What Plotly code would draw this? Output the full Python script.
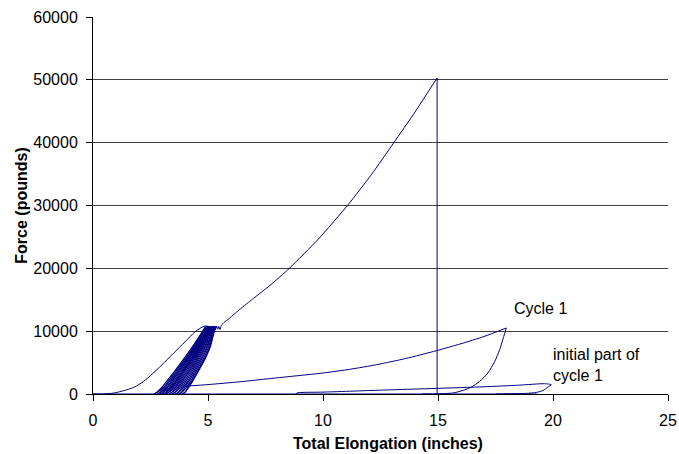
import plotly.graph_objects as go

# ---------------- data ----------------
# first loading curve (leftmost) up to the first peak
first_x = [0.0, 0.43, 0.9, 1.38, 1.81, 2.2, 2.5, 3.0, 3.5, 4.0, 4.42, 4.7, 4.86, 4.98]
first_y = [0, 0, 150, 570, 1110, 2010, 2930, 4650, 6480, 8300, 9860, 10550, 10800, 10800]

# force levels used for the dense bundle of repeated cycles
load_levels = [0, 300, 1000, 2000, 3500, 5500, 7500, 9500, 10800]
unload_levels = [10800, 9500, 7500, 5500, 3500, 2000, 1000, 300, 0]

# elongation of each loading branch at load_levels
bundle_load_x = [
    [2.65, 2.78, 2.98, 3.20, 3.52, 3.93, 4.32, 4.68, 4.90],
    [2.80, 2.93, 3.12, 3.33, 3.64, 4.04, 4.41, 4.74, 4.96],
    [2.92, 3.05, 3.23, 3.44, 3.74, 4.13, 4.49, 4.80, 5.01],
    [3.06, 3.18, 3.36, 3.56, 3.85, 4.23, 4.57, 4.86, 5.06],
    [3.17, 3.29, 3.46, 3.66, 3.94, 4.31, 4.64, 4.90, 5.10],
    [3.30, 3.43, 3.58, 3.78, 4.06, 4.41, 4.72, 4.96, 5.15],
    [3.44, 3.56, 3.71, 3.90, 4.17, 4.51, 4.80, 5.02, 5.21],
    [3.59, 3.71, 3.85, 4.04, 4.29, 4.61, 4.89, 5.08, 5.27],
    [3.73, 3.85, 3.98, 4.17, 4.41, 4.72, 4.98, 5.15, 5.32],
    [3.88, 4.00, 4.12, 4.30, 4.53, 4.83, 5.07, 5.21, 5.38],
]
# elongation of each unloading branch at unload_levels
bundle_unload_x = [
    [4.98, 4.71, 4.37, 3.99, 3.58, 3.27, 3.05, 2.81, 2.65],
    [4.90, 4.77, 4.45, 4.09, 3.69, 3.39, 3.18, 2.96, 2.80],
    [4.96, 4.83, 4.53, 4.18, 3.80, 3.50, 3.30, 3.08, 2.92],
    [5.01, 4.88, 4.61, 4.27, 3.90, 3.61, 3.41, 3.21, 3.06],
    [5.06, 4.93, 4.68, 4.36, 4.00, 3.72, 3.52, 3.32, 3.17],
    [5.10, 4.99, 4.76, 4.46, 4.12, 3.84, 3.65, 3.46, 3.30],
    [5.15, 5.05, 4.85, 4.56, 4.23, 3.97, 3.78, 3.59, 3.44],
    [5.21, 5.12, 4.94, 4.67, 4.35, 4.11, 3.92, 3.74, 3.59],
    [5.27, 5.18, 5.03, 4.78, 4.47, 4.24, 4.05, 3.88, 3.73],
    [5.32, 5.24, 5.10, 4.86, 4.56, 4.33, 4.15, 4.02, 3.88],
]

# final pull to failure
fail_x = [5.38, 5.42, 5.47, 5.52, 5.58, 5.73, 5.87, 6.2, 6.81, 7.7, 8.55, 9.8, 11.09, 12.1, 13.07, 14.0, 14.96]
fail_y = [10800, 10300, 10750, 10250, 10900, 11500, 11850, 12900, 14740, 17300, 20050, 24670, 30120, 34900, 39950, 44880, 50290]
drop_x = [14.96, 14.96]
drop_y = [50290, 0]

# cycle 1 (loading and unloading)
cycle1_load_x = [4.05, 5.0, 6.4, 7.25, 8.6, 10.0, 11.2, 12.32, 13.6, 14.93, 16.0, 17.0, 17.97]
cycle1_load_y = [1250, 1500, 1950, 2280, 2800, 3340, 3950, 4660, 5650, 6890, 8000, 9150, 10500]
cycle1_unload_x = [17.97, 17.86, 17.68, 17.47, 17.17, 16.81, 16.45, 16.09, 15.65, 15.0, 14.3]
cycle1_unload_y = [10500, 9170, 7050, 5190, 3340, 2000, 1110, 570, 160, 30, 0]

# initial part of cycle 1
init_x = [8.8, 8.91, 10.0, 12.4, 14.93, 17.0, 18.5, 19.64, 19.93, 19.78, 19.57, 19.28, 18.84, 17.5]
init_y = [0, 200, 300, 600, 890, 1150, 1400, 1640, 1480, 1110, 570, 250, 100, 0]

# baseline along zero force
base_x = [0.0, 19.3]
base_y = [0, 0]

x_ticks = [0, 5, 10, 15, 20, 25]
y_ticks = [0, 10000, 20000, 30000, 40000, 50000, 60000]
y_ticktext = ["0", "10000", "20000", "30000", "40000", "50000", "60000"]

# ---------------- figure ----------------
NAVY = "#000080"
fig = go.Figure()

def add(x, y, shape="spline", width=1):
    fig.add_trace(go.Scatter(x=x, y=y, mode="lines",
                             line=dict(color=NAVY, width=width, shape=shape, smoothing=0.6),
                             showlegend=False, hoverinfo="skip"))

add(base_x, base_y, "linear")
add(first_x, first_y)
for i in range(len(bundle_load_x)):
    add(bundle_unload_x[i], unload_levels, width=1.2)
    add(bundle_load_x[i], load_levels, width=1.2)
add(fail_x, fail_y)
add(drop_x, drop_y, "linear")
add(cycle1_load_x, cycle1_load_y)
add(cycle1_unload_x, cycle1_unload_y)
add(init_x, init_y)

FONT = "Liberation Sans, Arial, sans-serif"

fig.update_layout(
    width=679, height=454,
    margin=dict(l=93, r=11, t=17, b=60),
    paper_bgcolor="white", plot_bgcolor="white",
    font=dict(family=FONT, size=16, color="black"),
    xaxis=dict(range=[0, 25], tickvals=x_ticks, showgrid=False, zeroline=False,
               showline=True, linecolor="black", linewidth=1,
               ticks="outside", ticklen=6, tickcolor="black",
               ticklabelstandoff=6,
               automargin=False,
               layer="below traces"),
    yaxis=dict(range=[0, 60000], tickvals=y_ticks, ticktext=y_ticktext,
               showgrid=True, gridcolor="#404040", gridwidth=1, zeroline=False,
               showline=True, linecolor="black", linewidth=1,
               ticks="outside", ticklen=6, tickcolor="black",
               ticklabelstandoff=5,
               automargin=False,
               title=dict(text="<b>Force (pounds)</b>", standoff=1, font=dict(size=16)),
               layer="below traces"),
)

# x-axis title placed as in the reference (slightly right of centre)
fig.add_annotation(x=0.513, y=-0.131, xref="paper", yref="paper",
                   text="<b>Total Elongation (inches)</b>", showarrow=False,
                   xanchor="center", yanchor="middle", font=dict(size=16, family=FONT))

fig.add_annotation(x=18.23, y=13575, text="Cycle 1", showarrow=False,
                   xanchor="left", yanchor="middle", font=dict(size=16, family=FONT))
fig.add_annotation(x=19.93, y=6335, text="initial part of", showarrow=False,
                   xanchor="left", yanchor="middle", font=dict(size=16, family=FONT))
fig.add_annotation(x=19.93, y=2910, text="cycle 1", showarrow=False,
                   xanchor="left", yanchor="middle", font=dict(size=16, family=FONT))

fig.write_html("out.html", config={"displayModeBar": False},
               post_script="document.body.style.margin='0';")
